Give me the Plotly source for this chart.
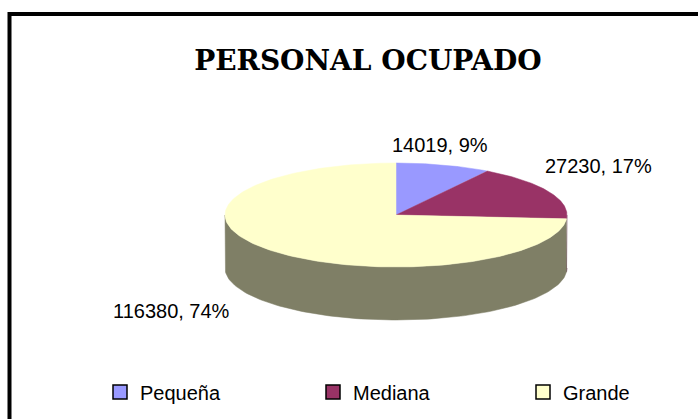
import numpy as np
import plotly.graph_objects as go

# ---- data ----
categories = ["Pequeña", "Mediana", "Grande"]
values = [14019, 27230, 116380]
colors = ["#9999FF", "#993366", "#FFFFCC"]
title_text = "PERSONAL OCUPADO"

# ---- geometry (layout settings, units: pie radius = 1) ----
W, H = 698, 419
CX_PX, CY_PX, RX_PX, RY_PX, DEPTH_PX = 396, 215, 171, 52, 53
RY = RY_PX / RX_PX
DEPTH = DEPTH_PX / RX_PX
LEGEND_X_PX = [100, 313, 523]   # left edge of each legend entry
LEGEND_NAMES = ["legend", "legend2", "legend3"]


def half(c):
    c = c.lstrip("#")
    r, g, b = (int(c[i:i + 2], 16) for i in (0, 2, 4))
    return "rgb(%d,%d,%d)" % (r // 2, g // 2, b // 2)


def rim(theta_deg, dz=0.0):
    t = np.radians(theta_deg)
    return np.sin(t), RY * np.cos(t) - dz


total = float(sum(values))
fracs = [v / total for v in values]
cum = np.concatenate([[0.0], np.cumsum(fracs)]) * 360.0

fig = go.Figure()

# side walls (visible front half: 90..270 deg clockwise from top)
for i, cat in enumerate(categories):
    a0, a1 = max(cum[i], 90.0), min(cum[i + 1], 270.0)
    if a1 <= a0:
        continue
    th = np.linspace(a0, a1, 120)
    xt, yt = rim(th)
    xb, yb = rim(th[::-1], DEPTH)
    fig.add_trace(go.Scatter(
        x=np.concatenate([xt, xb]), y=np.concatenate([yt, yb]),
        fill="toself", fillcolor=half(colors[i]), mode="lines",
        line=dict(width=0.5, color=half(colors[i])),
        hoverinfo="skip", showlegend=False))

# top faces
for i, cat in enumerate(categories):
    th = np.linspace(cum[i], cum[i + 1], 200)
    xt, yt = rim(th)
    fig.add_trace(go.Scatter(
        x=np.concatenate([[0], xt, [0]]), y=np.concatenate([[0], yt, [0]]),
        fill="toself", fillcolor=colors[i], mode="lines",
        line=dict(width=0.5, color=colors[i]),
        hoverinfo="skip", showlegend=False))

# legend entries (one legend per entry for exact spacing)
for i, cat in enumerate(categories):
    fig.add_trace(go.Scatter(
        x=[None], y=[None], mode="markers", name=cat, legend=LEGEND_NAMES[i],
        marker=dict(symbol="square", size=14, color=colors[i],
                    line=dict(color="#000000", width=1.5))))

# data labels
shifts = [(-3, 20), (50, 25), (-99, -8)]
for i, cat in enumerate(categories):
    mid = (cum[i] + cum[i + 1]) / 2
    x, y = rim(mid, DEPTH if 90 < mid < 270 else 0.0)
    pct = round(fracs[i] * 100)
    fig.add_annotation(
        x=x, y=y, text="%d, %d%%" % (values[i], pct), showarrow=False,
        xshift=shifts[i][0], yshift=shifts[i][1],
        font=dict(family="Liberation Sans, Arial", size=20, color="#000000"))

legend_common = dict(orientation="h", xanchor="left",
                     y=1 - 392 / H, yanchor="middle",
                     font=dict(family="Liberation Sans, Arial", size=20, color="#000000"),
                     bgcolor="rgba(0,0,0,0)")

fig.update_layout(
    width=W, height=H,
    margin=dict(l=0, r=0, t=0, b=0, autoexpand=False),
    paper_bgcolor="white", plot_bgcolor="white",
    xaxis=dict(visible=False, range=[-CX_PX / RX_PX, (W - CX_PX) / RX_PX],
               domain=[0, 1], fixedrange=True),
    yaxis=dict(visible=False, range=[-(H - CY_PX) / RX_PX, CY_PX / RX_PX],
               domain=[0, 1], fixedrange=True),
    title=dict(text=title_text, x=368 / W, xanchor="center",
               y=1 - 60 / H, yanchor="middle",
               font=dict(family="DejaVu Serif", size=28, color="#000000",
                         weight="bold")),
    showlegend=True,
    legend=dict(x=LEGEND_X_PX[0] / W, **legend_common),
    legend2=dict(x=LEGEND_X_PX[1] / W, **legend_common),
    legend3=dict(x=LEGEND_X_PX[2] / W, **legend_common),
    shapes=[dict(type="rect", xref="paper", yref="paper",
                 x0=9.5 / W, x1=1.05, y0=-0.05, y1=1 - 14 / H,
                 line=dict(color="#000000", width=4), fillcolor="rgba(0,0,0,0)",
                 layer="above")],
)

fig.write_html("out.html", config={"displayModeBar": False},
               post_script="document.body.style.margin='0';document.body.style.padding='0';")
